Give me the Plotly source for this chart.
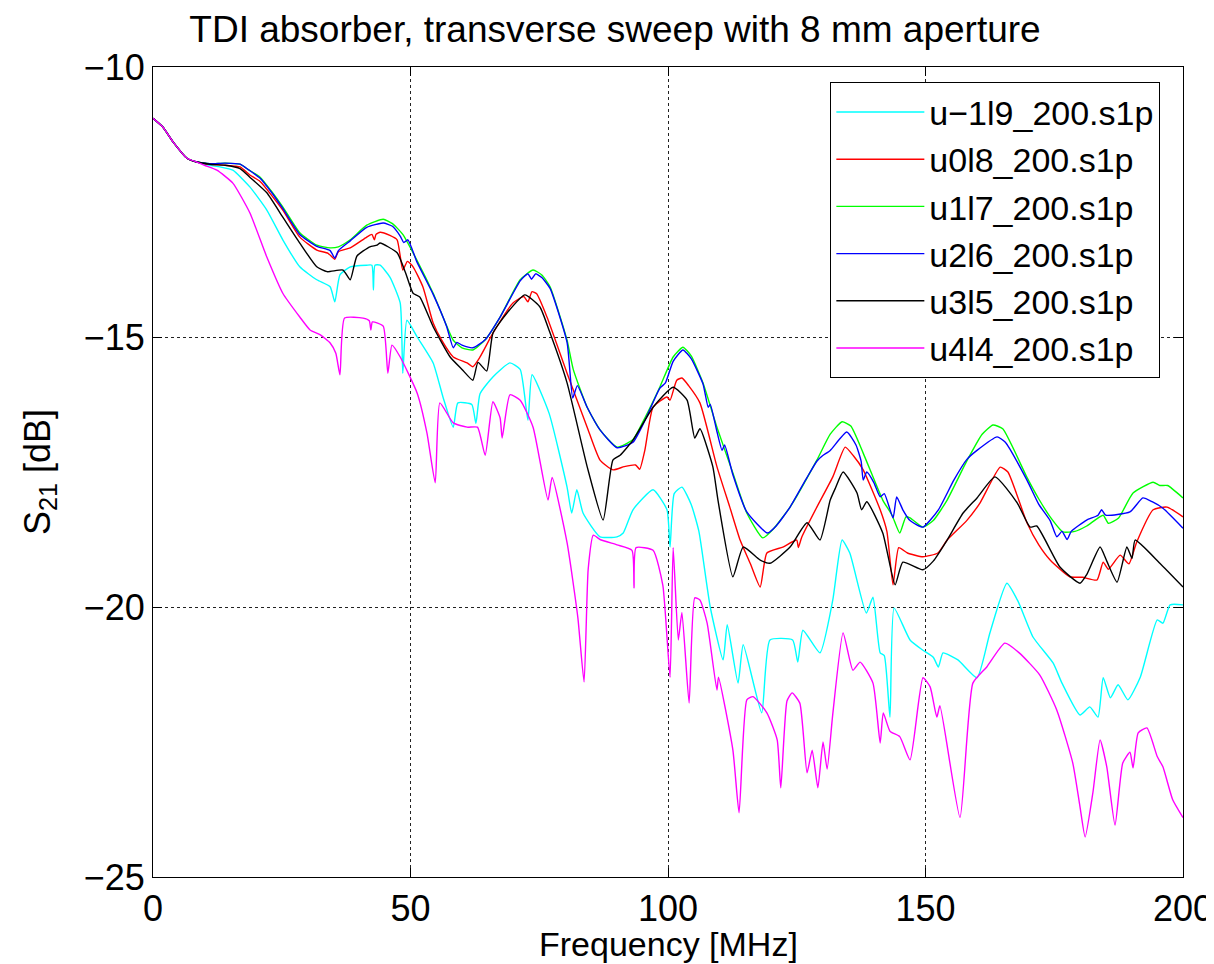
import plotly.graph_objects as go

common_f = [0, 1.9, 4, 6.6, 8.5]
common_db = [-10.95, -11.11, -11.4, -11.69, -11.76]

freq_cyan = common_f + [11, 13, 15.5, 18.8, 22.1, 25.2, 28.5, 31.8, 34.4, 35.3, 36.3, 38.3, 41.5, 42.5, 42.8, 43.1, 44.1, 46, 48, 48.5, 49.3, 51.3, 54.4, 56.3, 58.3, 59.2, 61.9, 62.7, 63.5, 66, 69.3, 71.3, 72.8, 73.6, 76.9, 80.4, 81.3, 82.3, 83.5, 86.8, 90.1, 91.3, 93.2, 97.1, 99.8, 100.4, 101.2, 102.7, 104.5, 106, 108.2, 110.7, 111.5, 113.6, 114.6, 118.2, 119.8, 124.2, 125.2, 126.2, 129.5, 132, 133.8, 135.3, 138.5, 139.8, 141.2, 142, 143.1, 143.9, 147, 149.5, 151.5, 152.5, 153.4, 156.3, 160, 162.5, 165.8, 168, 170.9, 174.8, 176.5, 180, 181.9, 183.5, 184.5, 185.9, 187.4, 189.3, 191.7, 195, 196.1, 197.5, 200]
db_cyan = common_db + [-11.82, -11.85, -11.91, -12.22, -12.65, -13.2, -13.7, -13.94, -14.07, -14.35, -13.85, -13.7, -13.67, -13.67, -14.13, -13.67, -13.67, -13.89, -14.37, -15.67, -14.69, -15.0, -15.48, -16.11, -16.67, -16.22, -16.25, -16.6, -16.05, -15.74, -15.48, -15.6, -16.54, -15.7, -16.41, -17.78, -18.26, -17.83, -18.26, -18.7, -18.7, -18.63, -18.2, -17.83, -18.2, -18.89, -17.9, -17.78, -18.1, -18.6, -20.0, -20.98, -20.33, -21.41, -20.7, -21.96, -20.61, -20.61, -21.02, -20.43, -20.85, -19.87, -18.76, -19.0, -20.11, -19.82, -20.85, -20.9, -22.04, -20.02, -20.61, -20.8, -20.93, -21.11, -20.85, -20.98, -21.31, -20.48, -19.56, -19.9, -20.56, -21.04, -21.41, -22.0, -21.85, -22.04, -21.31, -21.68, -21.44, -21.72, -21.3, -20.24, -20.3, -19.96, -19.96]

freq_red = common_f + [11, 14, 16.9, 18.8, 20.8, 25.2, 28.5, 31.8, 34, 35.3, 36, 38.3, 41.5, 42.5, 43, 43.3, 44.1, 46, 47.4, 48.5, 49.4, 50.5, 52.4, 54.4, 56, 58.3, 61, 62.1, 63.5, 66, 69.9, 72, 72.8, 73.6, 74.5, 76.5, 80.4, 84.3, 86.8, 89.3, 91.5, 93.7, 94.5, 95.5, 97.1, 99.8, 100.4, 101.7, 102.7, 104, 106.2, 109.5, 112, 114, 116, 117.9, 119.2, 122.3, 125, 125.3, 126, 128.9, 132, 134.4, 136, 137.9, 141.2, 142.5, 143.7, 144.8, 146.5, 149.5, 152.4, 154.2, 158, 160.6, 164.5, 166, 169.7, 172, 174.2, 178, 180.5, 183.3, 184.5, 185.5, 187.8, 189.5, 191, 194.2, 196.9, 200]
db_red = common_db + [-11.8, -11.82, -11.85, -12.0, -12.12, -12.65, -13.15, -13.39, -13.45, -13.56, -13.42, -13.35, -13.15, -13.1, -13.2, -13.1, -13.06, -13.12, -13.2, -13.76, -13.6, -13.7, -14.07, -14.74, -15.05, -15.37, -15.48, -15.55, -15.37, -14.93, -14.37, -14.25, -14.35, -14.16, -14.2, -14.63, -15.67, -16.67, -17.28, -17.46, -17.4, -17.37, -17.45, -17.1, -16.3, -16.11, -16.17, -15.8, -15.76, -15.9, -16.22, -17.4, -18.15, -18.76, -19.2, -19.63, -19.0, -18.89, -18.76, -18.9, -18.7, -18.15, -17.59, -17.04, -17.2, -17.46, -18.2, -18.6, -19.59, -18.9, -19.0, -19.07, -19.0, -18.76, -18.4, -18.07, -17.41, -17.5, -18.44, -18.85, -19.13, -19.44, -19.45, -19.5, -19.17, -19.3, -19.04, -19.2, -18.8, -18.2, -18.15, -18.33]

freq_green = common_f + [11, 14, 16.9, 18.5, 20.8, 23, 25.2, 28.5, 31.8, 34.4, 36, 38.3, 41.5, 44.7, 46.5, 48.5, 51.2, 54.4, 58.3, 60, 62.1, 64.5, 67.4, 71.3, 73.8, 75.5, 77.1, 80.4, 81.6, 84.3, 86.8, 90.1, 93.2, 95.5, 98.4, 101, 102.9, 104.5, 106.8, 109.5, 112.6, 115.3, 118.4, 120.5, 123.7, 128.9, 131.5, 133.8, 135.5, 137.9, 141.7, 143.5, 145, 146.2, 147, 149.5, 151.5, 154.2, 158, 161, 163.1, 165, 169.7, 172, 174.2, 176.7, 179, 181.3, 184.5, 185.5, 187.5, 190.3, 194.2, 195.5, 197, 200]
db_green = common_db + [-11.79, -11.78, -11.8, -11.9, -12.04, -12.3, -12.59, -13.07, -13.3, -13.35, -13.33, -13.2, -12.93, -12.82, -12.9, -13.1, -13.57, -14.19, -15.06, -15.2, -15.24, -15.05, -14.63, -13.94, -13.76, -13.85, -14.07, -15.06, -15.6, -16.3, -16.72, -17.04, -16.9, -16.5, -15.93, -15.37, -15.19, -15.35, -15.85, -16.67, -17.52, -18.26, -18.72, -18.55, -18.15, -17.28, -16.8, -16.57, -16.65, -17.15, -18.02, -18.3, -18.63, -18.33, -18.35, -18.52, -18.4, -18.02, -17.3, -16.8, -16.63, -16.7, -17.6, -18.0, -18.33, -18.61, -18.6, -18.5, -18.3, -18.45, -18.35, -17.89, -17.69, -17.75, -17.75, -17.98]

freq_blue = common_f + [11, 14, 16.9, 18.5, 20.8, 23, 25.2, 28.5, 31.8, 34.4, 35.3, 36, 38.3, 41.5, 44.7, 46.5, 48, 48.7, 49.5, 51.2, 54.4, 57, 58.3, 59, 60, 62.1, 64.5, 67.4, 71.3, 72.8, 73.5, 74.3, 75.5, 77.1, 80.4, 81.5, 82.4, 84.3, 86.8, 90.1, 93.2, 95.5, 98.4, 99.5, 101, 102.9, 104.5, 106.8, 107.8, 108.2, 109.5, 110.5, 111, 112.6, 115.3, 119.3, 121, 123.7, 127, 128.9, 130, 131.5, 134.7, 136.5, 137.5, 137.9, 138.6, 140, 141.2, 142, 143.7, 144.4, 145.6, 147, 149.5, 152.5, 155.5, 158, 160, 163.9, 165.5, 169.7, 172, 174.2, 175.5, 176.5, 177.5, 178.3, 181.3, 183.5, 184.2, 185, 189.7, 192.2, 194, 196.1, 200]
db_blue = common_db + [-11.79, -11.78, -11.8, -11.9, -12.06, -12.32, -12.62, -13.1, -13.32, -13.4, -13.54, -13.4, -13.22, -12.97, -12.89, -12.95, -13.13, -13.25, -13.2, -13.6, -14.21, -14.8, -15.2, -15.1, -15.15, -15.2, -15.05, -14.63, -13.96, -13.83, -13.93, -13.83, -13.9, -14.1, -15.1, -16.13, -15.9, -16.3, -16.72, -17.05, -16.95, -16.55, -15.95, -15.85, -15.45, -15.24, -15.4, -15.87, -16.3, -16.25, -16.75, -17.1, -17.0, -17.55, -18.24, -18.63, -18.5, -18.15, -17.6, -17.3, -17.2, -17.1, -16.76, -17.0, -17.3, -17.65, -17.5, -17.7, -17.96, -17.9, -18.35, -17.96, -18.2, -18.4, -18.52, -18.2, -17.65, -17.27, -17.1, -16.85, -16.95, -17.65, -18.1, -18.4, -18.7, -18.6, -18.75, -18.6, -18.39, -18.3, -18.2, -18.3, -18.24, -17.98, -18.05, -18.17, -18.54]

freq_black = common_f + [11, 14, 16.9, 18.8, 22.1, 25.2, 28.5, 31.8, 33.8, 36.9, 38.3, 39.6, 42.1, 43.5, 44.1, 47.4, 49, 50.5, 51.8, 54.4, 57.7, 60, 62.1, 63.1, 64.8, 66, 68.7, 72.2, 75.1, 77, 80.4, 84.3, 87.4, 89.3, 90.7, 93.2, 97.1, 101, 103.7, 105.2, 106.2, 108.7, 109.7, 112.6, 114.6, 117.9, 119.8, 123.7, 127, 129.5, 131.5, 132.5, 134, 136.7, 137.6, 138.6, 141.7, 144.1, 145.6, 149.5, 151.5, 154.2, 157.3, 160, 163.5, 167.8, 170.3, 171.6, 176.1, 180, 181.3, 183.9, 185.2, 187.2, 189.1, 190.1, 190.7, 195.5, 200]
db_black = common_db + [-11.8, -11.82, -11.88, -12.04, -12.33, -12.78, -13.26, -13.7, -13.79, -13.76, -13.94, -13.5, -13.33, -13.3, -13.26, -13.44, -13.8, -14.19, -14.26, -14.81, -15.37, -15.6, -15.8, -15.47, -15.63, -14.93, -14.56, -14.22, -14.44, -14.9, -15.85, -17.4, -18.39, -17.28, -17.19, -16.91, -16.3, -15.93, -16.17, -16.87, -16.7, -17.4, -18.02, -19.44, -18.89, -19.13, -19.19, -18.89, -18.44, -18.76, -18.02, -17.8, -17.5, -17.89, -18.2, -18.05, -18.63, -19.59, -19.17, -19.31, -19.15, -18.76, -18.26, -17.98, -17.59, -18.07, -18.52, -18.5, -19.26, -19.56, -19.4, -18.89, -19.15, -19.54, -18.89, -19.1, -18.76, -19.19, -19.63]

freq_magenta = common_f + [10, 12.4, 15.5, 18.8, 22.1, 25.2, 28.5, 30.5, 32.5, 34.4, 35.5, 36.3, 37.2, 40.8, 42, 42.3, 42.6, 44.7, 45.6, 46.4, 48, 51.3, 53.2, 54.8, 55.7, 58.3, 61, 63, 64.5, 66, 67.4, 67.8, 69.3, 71.3, 73.8, 76.7, 77.5, 80.4, 82.5, 83.7, 84.5, 85.5, 86.8, 90.1, 93, 93.4, 93.8, 97.1, 99, 100.4, 101, 102, 102.7, 104.1, 105.2, 106.2, 107.6, 109.5, 109.8, 112.6, 113.8, 115.3, 116.5, 119.2, 121.2, 121.9, 123.1, 124.1, 125.6, 127, 128, 129.1, 130.1, 130.9, 132, 134, 135.9, 137.3, 139.8, 141.2, 141.8, 143.1, 145, 147, 149.5, 150.9, 152.2, 152.8, 156.7, 159.2, 161.9, 165.4, 168.2, 172.2, 175.5, 178.6, 180, 181, 182.5, 183.9, 185.2, 186.8, 188.3, 189.7, 190.3, 191.3, 193, 195, 196.1, 198, 200]
db_magenta = common_db + [-11.82, -11.91, -12.15, -12.7, -13.52, -14.19, -14.63, -14.87, -14.96, -15.11, -15.3, -15.7, -14.65, -14.65, -14.7, -14.87, -14.72, -14.8, -15.67, -15.15, -15.37, -16.04, -16.78, -17.7, -16.22, -16.59, -16.67, -16.67, -17.19, -16.2, -16.5, -16.87, -16.07, -16.17, -16.67, -18.02, -17.6, -18.81, -20.2, -21.39, -19.3, -18.67, -18.75, -18.85, -18.95, -19.65, -18.9, -18.95, -19.6, -21.3, -18.9, -20.61, -20.1, -21.78, -19.83, -19.87, -20.3, -21.54, -21.3, -22.65, -23.81, -21.72, -21.66, -21.96, -22.46, -23.35, -21.74, -21.59, -21.78, -23.07, -22.65, -23.35, -22.5, -23.0, -21.98, -20.48, -21.17, -21.02, -21.41, -22.52, -21.96, -22.3, -22.4, -22.83, -21.31, -21.48, -22.04, -21.83, -23.9, -21.41, -21.11, -20.67, -20.85, -21.26, -21.91, -22.89, -23.7, -24.26, -23.44, -22.46, -22.96, -24.04, -22.89, -22.69, -22.98, -22.33, -22.24, -22.77, -22.96, -23.57, -23.9]

series_names = ["u\u22121l9_200.s1p", "u0l8_200.s1p", "u1l7_200.s1p", "u2l6_200.s1p", "u3l5_200.s1p", "u4l4_200.s1p"]
series_colors = ["#00FFFF", "#FF0000", "#00FF00", "#0000FF", "#000000", "#FF00FF"]
series_f = [freq_cyan, freq_red, freq_green, freq_blue, freq_black, freq_magenta]
series_db = [db_cyan, db_red, db_green, db_blue, db_black, db_magenta]

x_ticks = [0, 50, 100, 150, 200]
y_ticks = [-10, -15, -20, -25]

FONT = "Liberation Sans, Arial, Helvetica, sans-serif"

fig = go.Figure()
for name, color, f, d in zip(series_names, series_colors, series_f, series_db):
    fig.add_trace(go.Scatter(x=f, y=d, mode="lines", name=name,
                             line=dict(color=color, width=1.4, shape="spline", smoothing=0.5)))

axis_common = dict(
    showline=True, linecolor="black", linewidth=1, mirror="ticks",
    ticks="inside", ticklen=9, tickcolor="black", tickwidth=1,
    showgrid=True, gridcolor="#222222", griddash="dot", gridwidth=1,
    zeroline=False, automargin=False,
    tickfont=dict(family=FONT, size=36, color="black"),
)

# page body has an 8px margin, so the plot box is offset accordingly
fig.update_layout(
    width=1214, height=964,
    paper_bgcolor="white", plot_bgcolor="white",
    margin=dict(l=145, r=39, t=59, b=95),
    font=dict(family=FONT, color="black"),
    title=dict(text="TDI absorber, transverse sweep with 8 mm aperture",
               x=0.5, xanchor="center", y=0.978, yanchor="middle",
               font=dict(family=FONT, size=37, color="black")),
    xaxis=dict(range=[0, 200], tickvals=x_ticks, **axis_common),
    yaxis=dict(range=[-25, -10], tickvals=y_ticks,
               title=dict(text="S<sub>21</sub> [dB]", font=dict(family=FONT, size=36), standoff=22),
               **axis_common),
    legend=dict(x=0.978, xanchor="right", y=0.981, yanchor="top",
                bgcolor="white", bordercolor="black", borderwidth=1,
                font=dict(family=FONT, size=34, color="black"),
                itemwidth=88, tracegroupgap=0),
    showlegend=True,
    annotations=[dict(text="Frequency [MHz]", xref="paper", yref="paper",
                      x=0.5, y=-0.083, xanchor="center", yanchor="middle",
                      showarrow=False, font=dict(family=FONT, size=34, color="black"))],
)

fig.write_html("out.html")
